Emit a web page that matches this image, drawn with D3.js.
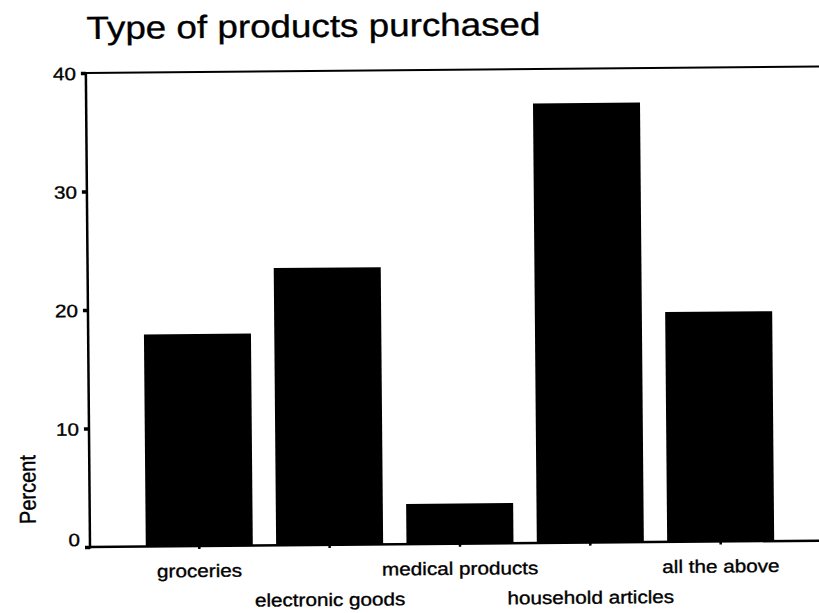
<!DOCTYPE html>
<html>
<head>
<meta charset="utf-8">
<script src="https://cdn.jsdelivr.net/npm/d3@7/dist/d3.min.js"></script>
<style>
  html, body { margin: 0; padding: 0; background: #fff; }
  svg { display: block; }
  text { font-family: "Liberation Sans", Arial, Helvetica, sans-serif; fill: #000; stroke: #000; stroke-width: 0.35px; }
</style>
</head>
<body>
<svg id="chart" width="819" height="613"></svg>
<script>
// Survey answers: type of products purchased (percent of respondents)
const categories = ["groceries", "electronic goods", "medical products", "household articles", "all the above"];
const percents = [17.9, 23.4, 3.4, 37.1, 19.4];
const yTicks = [0, 10, 20, 30, 40];
const titleText = "Type of products purchased";
const yTitle = "Percent";

const W = 819, H = 613;
const plotLeft = 90, plotTop = 73, plotBottom = 547, plotRight = 830;
const stretch = 1.15; // glyphs are drawn a little wider than tall

const svg = d3.select("#chart");
svg.append("rect").attr("width", W).attr("height", H).attr("fill", "#fff");

// the whole plot sits at a slight tilt
const g = svg.append("g").attr("transform", `rotate(-0.5, ${plotLeft}, ${plotBottom})`);

const x = d3.scaleBand()
  .domain(categories)
  .range([plotLeft, plotRight])
  .paddingInner(0.179)
  .paddingOuter(0.428);

const y = d3.scaleLinear().domain([0, 40]).range([plotBottom, plotTop]);

// title
g.append("text")
  .attr("transform", `translate(91,39) scale(${stretch},1)`)
  .attr("font-size", 32)
  .text(titleText);

// bars
g.append("g").selectAll("rect")
  .data(categories)
  .join("rect")
  .attr("x", d => x(d))
  .attr("y", (d, i) => y(percents[i]))
  .attr("width", x.bandwidth())
  .attr("height", (d, i) => y(0) - y(percents[i]))
  .attr("fill", "#000");

// frame: top rule, y axis and baseline
g.append("line").attr("x1", plotLeft).attr("x2", plotRight).attr("y1", y(40)).attr("y2", y(40))
  .attr("stroke", "#000").attr("stroke-width", 2);
g.append("line").attr("x1", plotLeft).attr("x2", plotLeft).attr("y1", y(40) - 1).attr("y2", y(0) + 1.5)
  .attr("stroke", "#000").attr("stroke-width", 2.5);
g.append("line").attr("x1", plotLeft - 1).attr("x2", plotRight).attr("y1", y(0)).attr("y2", y(0))
  .attr("stroke", "#000").attr("stroke-width", 2.5);

// y axis ticks and labels
const yAxis = g.append("g")
  .attr("transform", `translate(${plotLeft},0)`)
  .call(d3.axisLeft(y).tickValues(yTicks).tickSize(5).tickSizeOuter(0));
yAxis.select(".domain").remove();
yAxis.attr("font-family", null).attr("font-size", null);
yAxis.selectAll(".tick line").attr("stroke", "#000").attr("stroke-width", 3.5);
yAxis.selectAll(".tick text")
  .attr("x", null)
  .attr("dy", null)
  .attr("font-size", 18)
  .attr("dominant-baseline", "central")
  .attr("transform", d => `translate(-10,${d === 0 ? -8 : 0}) scale(${stretch},1)`);

// small category ticks under the baseline
g.append("g").selectAll("line")
  .data(categories)
  .join("line")
  .attr("x1", d => x(d) + x.bandwidth() / 2)
  .attr("x2", d => x(d) + x.bandwidth() / 2)
  .attr("y1", y(0))
  .attr("y2", y(0) + 3)
  .attr("stroke", "#000")
  .attr("stroke-width", 2.5);

// category labels, staggered on two rows
g.append("g").selectAll("text")
  .data(categories)
  .join("text")
  .attr("text-anchor", "middle")
  .attr("font-size", 18)
  .attr("transform", (d, i) => `translate(${x(d) + x.bandwidth() / 2},${i % 2 === 0 ? 578 : 608}) scale(${stretch},1)`)
  .text(d => d);

// y axis title
g.append("text")
  .attr("text-anchor", "middle")
  .attr("font-size", 20)
  .attr("transform", `translate(36,489) scale(${stretch},1) rotate(-90)`)
  .text(yTitle);
</script>
</body>
</html>
